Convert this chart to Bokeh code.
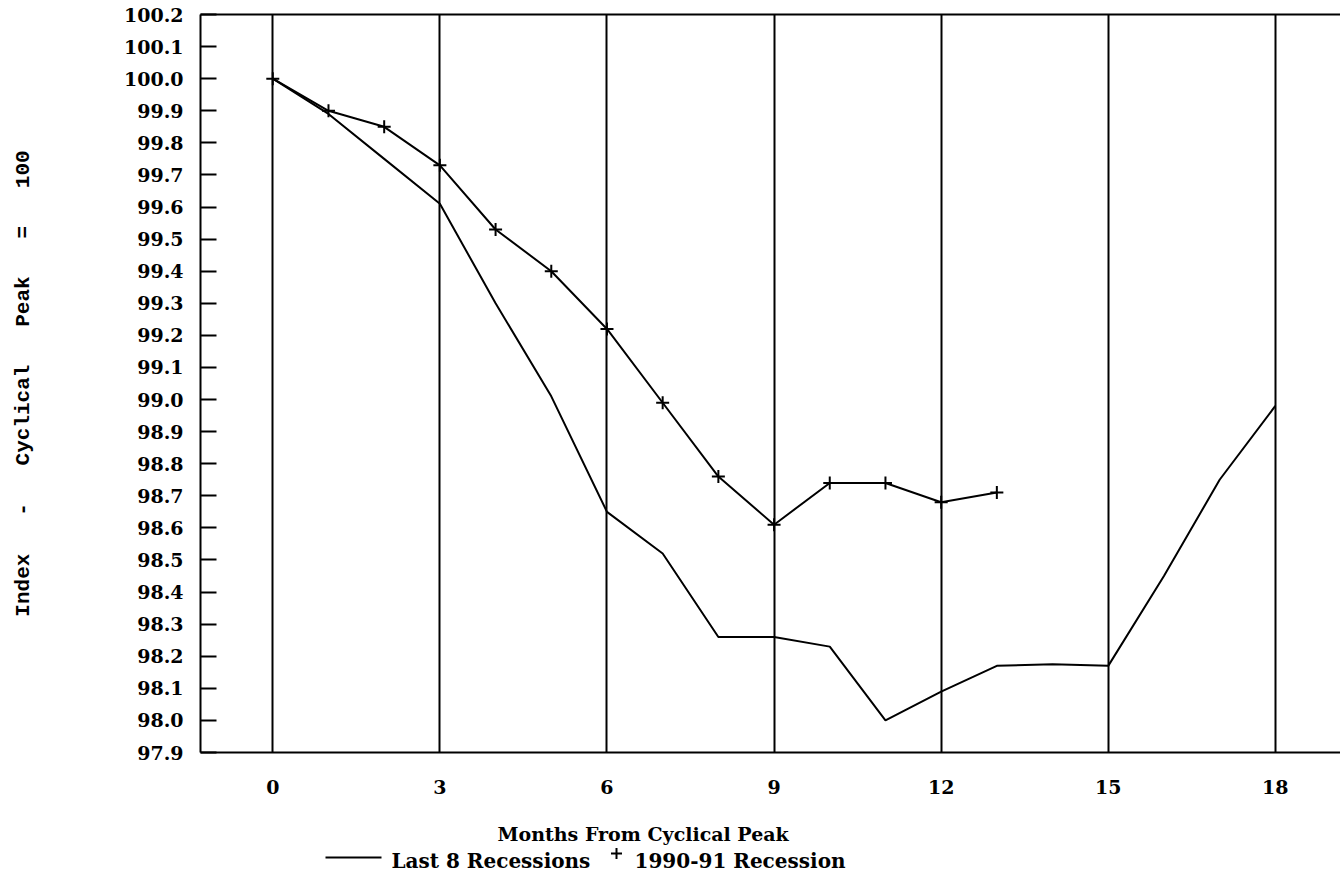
from bokeh.plotting import figure
from bokeh.layouts import column
from bokeh.models import Range1d, FixedTicker, LinearAxis, NumeralTickFormatter
from bokeh.core.properties import value
from bokeh.embed import file_html
from bokeh.resources import INLINE

# ---- data ----
months_last8 = [0, 1, 2, 3, 4, 5, 6, 7, 8, 9, 10, 11, 12, 13, 14, 15, 16, 17, 18]
last8 = [100.0, 99.89, 99.75, 99.61, 99.30, 99.01, 98.65, 98.52, 98.26, 98.26,
         98.23, 98.00, 98.09, 98.17, 98.175, 98.17, 98.45, 98.75, 98.98]
months_9091 = [0, 1, 2, 3, 4, 5, 6, 7, 8, 9, 10, 11, 12, 13]
rec_9091 = [100.0, 99.90, 99.85, 99.73, 99.53, 99.40, 99.22, 98.99, 98.76, 98.61,
            98.74, 98.74, 98.68, 98.71]
x_ticks = [0, 3, 6, 9, 12, 15, 18]
y_ticks = [97.9, 98.0, 98.1, 98.2, 98.3, 98.4, 98.5, 98.6, 98.7, 98.8, 98.9,
           99.0, 99.1, 99.2, 99.3, 99.4, 99.5, 99.6, 99.7, 99.8, 99.9, 100.0, 100.1, 100.2]
x_title = "Months From Cyclical Peak"
y_title = "Index - Cyclical Peak = 100"
series_names = ["Last 8 Recessions", "1990-91 Recession"]

SERIF = "DejaVu Serif"
NB = "\u00a0"

# ---------------- main chart ----------------
p = figure(width=1340, height=808, output_backend="svg", toolbar_location=None,
           x_range=Range1d(-1.298, 19.17), y_range=Range1d(97.9, 100.2),
           min_border_left=200, min_border_right=0, min_border_top=14,
           min_border_bottom=56)
p.title.visible = False
p.outline_line_color = None
p.background_fill_color = "white"
p.border_fill_color = "white"

xa = p.xaxis[0]
xa.ticker = FixedTicker(ticks=x_ticks)
xa.major_tick_in = 0
xa.major_tick_out = 0
xa.minor_tick_in = 0
xa.minor_tick_out = 0
xa.axis_line_width = 2
xa.axis_line_color = "black"
xa.major_label_standoff = 27
xa.major_label_text_font = SERIF
xa.major_label_text_font_style = "bold"
xa.major_label_text_font_size = "19px"
xa.major_label_text_color = "black"

ya = p.yaxis[0]
ya.ticker = FixedTicker(ticks=y_ticks)
ya.formatter = NumeralTickFormatter(format="0.0")
ya.major_tick_in = 16
ya.major_tick_out = 0
ya.minor_tick_in = 0
ya.minor_tick_out = 0
ya.major_tick_line_width = 2
ya.major_tick_line_color = "black"
ya.axis_line_width = 2
ya.axis_line_color = "black"
ya.major_label_standoff = 17
ya.major_label_text_font = SERIF
ya.major_label_text_font_style = "bold"
ya.major_label_text_font_size = "19px"
ya.major_label_text_color = "black"
ya.axis_label = y_title.replace(" ", NB * 3)
ya.axis_label_text_font = "Liberation Mono"
ya.axis_label_text_font_style = "bold"
ya.axis_label_text_font_size = "21px"
ya.axis_label_text_color = "black"
ya.axis_label_standoff = 86

top = LinearAxis(ticker=FixedTicker(ticks=[]), major_tick_in=0, major_tick_out=0,
                 minor_tick_in=0, minor_tick_out=0, major_label_text_font_size="0px",
                 axis_line_width=2, axis_line_color="black")
p.add_layout(top, "above")

p.xgrid.ticker = FixedTicker(ticks=x_ticks)
p.xgrid.grid_line_color = "black"
p.xgrid.grid_line_width = 2
p.xgrid.grid_line_alpha = 1.0
p.ygrid.visible = False

p.line(months_last8, last8, line_color="black", line_width=2)
p.line(months_9091, rec_9091, line_color="black", line_width=2)
p.scatter(months_9091, rec_9091, marker="cross", size=13, line_color="black",
          line_width=2, fill_color=None)

# ---------------- x title and legend strip (page pixel coordinates) ----------------
q = figure(width=1340, height=76, output_backend="svg", toolbar_location=None,
           x_range=Range1d(200, 1340), y_range=Range1d(76, 0),
           x_axis_type=None, y_axis_type=None,
           min_border_left=200, min_border_right=0, min_border_top=0, min_border_bottom=0)
q.title.visible = False
q.outline_line_color = None
q.xgrid.visible = False
q.ygrid.visible = False
q.background_fill_color = "white"
q.border_fill_color = "white"

txt = dict(text_font=value(SERIF), text_font_style="bold", text_color="black",
           text_baseline="middle", text_align="left")
q.text(x=[497], y=[25], text=[x_title], text_font_size="19px", **txt)

# legend: line sample + label, marker sample + label
q.segment(x0=[325], y0=[49], x1=[381], y1=[49], line_color="black", line_width=2)
q.text(x=[391], y=[52], text=[series_names[0]], text_font_size="20px", **txt)
q.scatter(x=[616], y=[45], marker="cross", size=11, line_color="black", line_width=2)
q.text(x=[634], y=[52], text=[series_names[1]], text_font_size="20px", **txt)

layout = column(p, q, spacing=0)
open("out.html", "w").write(file_html(layout, INLINE))
